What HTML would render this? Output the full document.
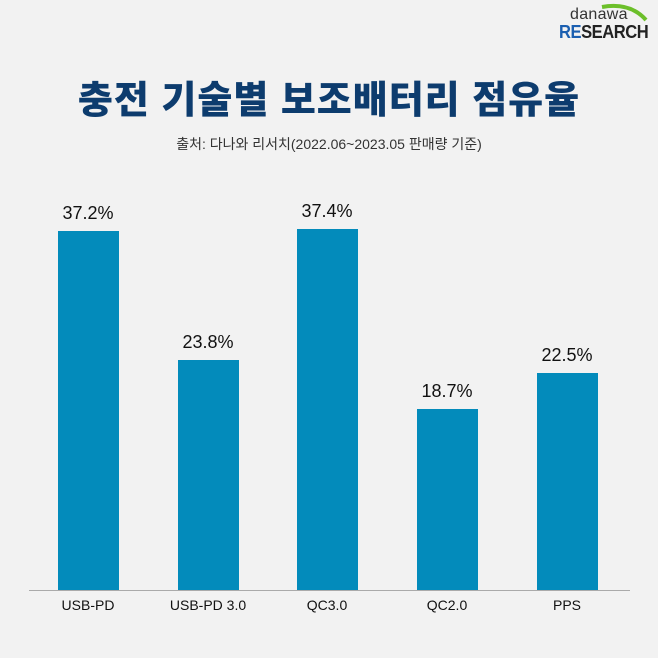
<!DOCTYPE html>
<html><head><meta charset="utf-8"><style>
body{margin:0;width:658px;height:658px;background:#f2f2f2;position:relative;overflow:hidden;font-family:"Liberation Sans","Noto Sans CJK KR",sans-serif}
.t{position:absolute;left:0;width:658px;text-align:center}
.bar{position:absolute;background:#038bbb;width:61px}
.v{position:absolute;width:120px;text-align:center;font-size:18px;color:#111}
.x{position:absolute;width:140px;text-align:center;font-size:14px;color:#111;top:597px}
</style></head><body>
<div style="position:absolute;left:570px;top:6px;font-size:16px;color:#333;letter-spacing:0.3px">danawa</div>
<svg style="position:absolute;left:600px;top:2px" width="50" height="20"><path d="M2 5 Q30 0 46 18" stroke="#6cbf2a" stroke-width="4" fill="none"/></svg>
<div style="position:absolute;left:559px;top:22px;font-size:18px;font-weight:bold;color:#222;letter-spacing:-0.5px;transform:scaleX(0.92);transform-origin:left"><span style="color:#1b5fb0">RE</span>SEARCH</div>
<div class="t" style="top:69px;font-size:38px;font-weight:900;color:#0d3c6e;letter-spacing:1px">충전 기술별 보조배터리 점유율</div>
<div class="t" style="top:134px;font-size:14px;color:#333">출처: 다나와 리서치(2022.06~2023.05 판매량 기준)</div>
<div style="position:absolute;left:29px;top:590px;width:601px;height:1px;background:#aaa"></div>
<div class="bar" style="left:58px;top:231px;height:359px"></div>
<div class="bar" style="left:178px;top:360px;height:230px"></div>
<div class="bar" style="left:297px;top:229px;height:361px"></div>
<div class="bar" style="left:417px;top:409px;height:181px"></div>
<div class="bar" style="left:537px;top:373px;height:217px"></div>
<div class="v" style="left:28px;top:203px">37.2%</div>
<div class="v" style="left:148px;top:332px">23.8%</div>
<div class="v" style="left:267px;top:201px">37.4%</div>
<div class="v" style="left:387px;top:381px">18.7%</div>
<div class="v" style="left:507px;top:345px">22.5%</div>
<div class="x" style="left:18px">USB-PD</div>
<div class="x" style="left:138px">USB-PD 3.0</div>
<div class="x" style="left:257px">QC3.0</div>
<div class="x" style="left:377px">QC2.0</div>
<div class="x" style="left:497px">PPS</div>
</body></html>
